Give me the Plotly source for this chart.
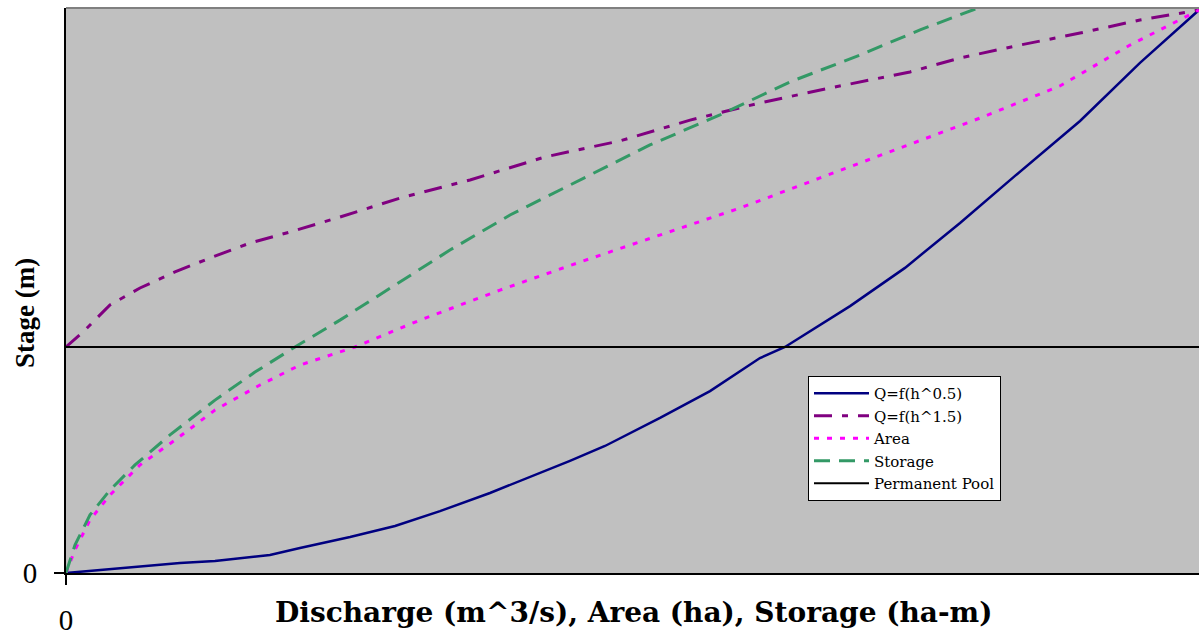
import plotly.graph_objects as go

# Discharge Q = f(h^0.5)
q05_x = [0, 4.77, 10.06, 13.15, 18.0, 20.65, 25.07, 29.04, 33.01, 37.42, 41.84, 44.48, 47.57,
         52.43, 56.84, 61.25, 63.46, 69.2, 74.05, 78.91, 83.76, 89.5, 94.79, 100]
q05_y = [0, 0.022, 0.044, 0.053, 0.080, 0.111, 0.159, 0.208, 0.274, 0.354, 0.442, 0.496, 0.562,
         0.686, 0.805, 0.951, 1.0, 1.181, 1.350, 1.549, 1.757, 2.0, 2.257, 2.491]

# Discharge Q = f(h^1.5)
q15_x = [0, 1.68, 3.88, 6.53, 9.62, 12.71, 16.24, 19.77, 24.18, 29.48, 35.66, 42.28, 48.9,
         55.08, 61.25, 67.43, 74.49, 78.91, 84.2, 89.5, 94.79, 100]
q15_y = [1.0, 1.075, 1.186, 1.261, 1.332, 1.394, 1.460, 1.509, 1.575, 1.659, 1.739, 1.841, 1.912,
         2.004, 2.080, 2.146, 2.217, 2.279, 2.336, 2.389, 2.447, 2.491]

# Area
area_x = [0, 0.79, 2.12, 3.88, 6.53, 9.62, 13.15, 17.12, 20.65, 25.51, 31.24, 38.31, 45.37,
          52.43, 59.49, 66.55, 73.61, 80.67, 87.73, 93.91, 100]
area_y = [0, 0.102, 0.235, 0.345, 0.478, 0.588, 0.721, 0.832, 0.920, 1.0, 1.119, 1.252, 1.376,
          1.496, 1.615, 1.748, 1.881, 2.013, 2.155, 2.336, 2.491]

# Storage
stor_x = [0, 0.79, 2.12, 3.88, 6.09, 9.18, 13.15, 16.68, 20.21, 24.18, 29.04, 33.89, 39.19,
          45.37, 51.54, 57.72, 63.9, 70.08, 75.38, 80.49]
stor_y = [0, 0.124, 0.257, 0.367, 0.478, 0.611, 0.765, 0.889, 1.0, 1.119, 1.274, 1.429, 1.584,
          1.739, 1.894, 2.027, 2.173, 2.292, 2.403, 2.5]

# Permanent pool
pool_x = [0, 100]
pool_y = [1.0, 1.0]

x_range = [0, 100]
y_range = [0, 2.5]
tick_vals = [0]
tick_text = ["0"]

FONT = "Liberation Serif, Times New Roman, serif"
WIDE = "DejaVu Serif, serif"

fig = go.Figure()
fig.add_trace(go.Scatter(x=q05_x, y=q05_y, mode="lines", name="Q=f(h^0.5)",
                         line=dict(color="#000080", width=2.5)))
fig.add_trace(go.Scatter(x=q15_x, y=q15_y, mode="lines", name="Q=f(h^1.5)",
                         line=dict(color="#800080", width=3, dash="18px,10px,6px,10px")))
fig.add_trace(go.Scatter(x=area_x, y=area_y, mode="lines", name="Area",
                         line=dict(color="#FF00FF", width=3, dash="5px,8px")))
fig.add_trace(go.Scatter(x=stor_x, y=stor_y, mode="lines", name="Storage",
                         line=dict(color="#339966", width=3, dash="16px,9px")))
fig.add_trace(go.Scatter(x=pool_x, y=pool_y, mode="lines", name="Permanent Pool",
                         line=dict(color="#000000", width=2)))

fig.update_layout(
    width=1199, height=637,
    margin=dict(l=66, r=0, t=8, b=64),
    paper_bgcolor="white",
    plot_bgcolor="#C0C0C0",
    font=dict(family=FONT, color="black"),
    showlegend=True,
    legend=dict(x=(808 - 66) / 1133, y=(573 - 376) / 565, xanchor="left", yanchor="top",
                bgcolor="white", bordercolor="black", borderwidth=1,
                font=dict(family=WIDE, size=15, color="black"),
                tracegroupgap=0, itemwidth=55),
    xaxis=dict(range=x_range, showgrid=False, zeroline=False,
               showline=True, linecolor="black", linewidth=2,
               ticks="outside", ticklen=10, tickcolor="black", tickwidth=2,
               tickvals=tick_vals, ticktext=tick_text,
               tickfont=dict(family=FONT, size=29, color="black"),
               ticklabelstandoff=10),
    yaxis=dict(range=y_range, showgrid=False, zeroline=False,
               showline=True, linecolor="black", linewidth=2,
               ticks="outside", ticklen=10, tickcolor="black", tickwidth=2,
               tickvals=tick_vals, ticktext=tick_text,
               tickfont=dict(family=FONT, size=29, color="black"),
               ticklabelstandoff=11),
    shapes=[dict(type="line", xref="paper", yref="paper", x0=0, x1=1, y0=1, y1=1,
                 line=dict(color="#808080", width=2))],
    annotations=[
        dict(text="<b>Discharge (m^3/s), Area (ha), Storage (ha-m)</b>", xref="paper", yref="paper",
             x=(633 - 66) / 1133, y=-(612 - 573) / 565, xanchor="center", yanchor="middle",
             showarrow=False, font=dict(family=WIDE, size=28, color="black")),
        dict(text="<b>Stage (m)</b>", xref="paper", yref="paper", textangle=-90,
             x=-(66 - 25) / 1133, y=(573 - 313) / 565, xanchor="center", yanchor="middle",
             showarrow=False, font=dict(family=FONT, size=27, color="black")),
    ],
)

fig.write_html(
    "out.html",
    config={"displayModeBar": False},
    post_script="document.documentElement.style.margin='0';document.body.style.margin='0';"
                "document.body.style.overflow='hidden';document.documentElement.style.overflow='hidden';",
)
